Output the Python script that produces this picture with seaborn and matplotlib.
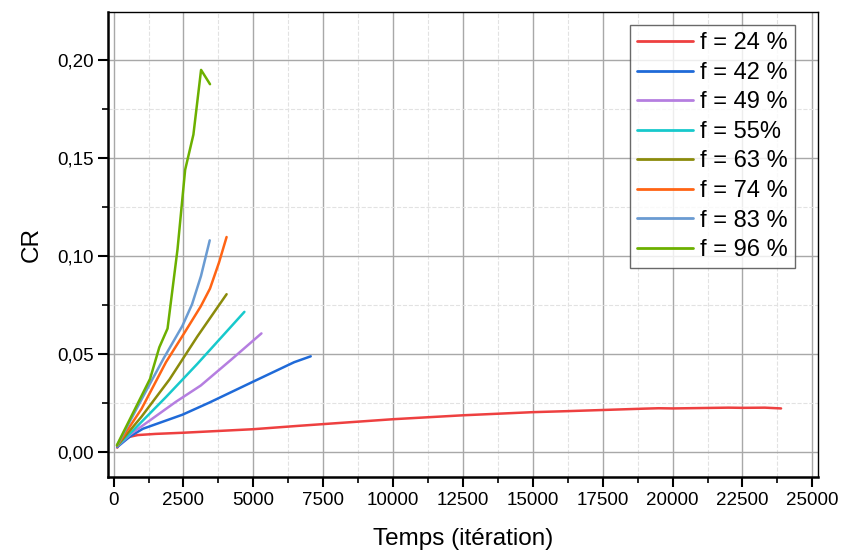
import numpy as np
import pandas as pd
import matplotlib
matplotlib.use('Agg')
import matplotlib.pyplot as plt
import seaborn as sns
from matplotlib.ticker import MultipleLocator, FuncFormatter

# --- données ---
labels = ['f = 24 %', 'f = 42 %', 'f = 49 %', 'f = 55%', 'f = 63 %', 'f = 74 %', 'f = 83 %', 'f = 96 %']
colors = ['#ee4040', '#1f6ad8', '#b57ee0', '#17c9cc', '#8b8b0b', '#ff6414', '#6a9bd2', '#6cb000']

x_24 = [130, 270, 570, 860, 1500, 2500, 5000, 6600, 7500, 10000, 12500, 15000, 16200, 17500,
        19000, 19500, 20000, 21000, 22000, 22500, 23300, 23880]
cr_24 = [0.0022, 0.0056, 0.0077, 0.0086, 0.0092, 0.0098, 0.0116, 0.0133, 0.0142, 0.0167, 0.0187,
         0.0203, 0.0208, 0.0214, 0.0221, 0.0223, 0.0222, 0.0224, 0.0226, 0.0225, 0.0226, 0.0222]

x_42 = [130, 600, 1045, 2464, 3413, 4953, 6461, 7053]
cr_42 = [0.0025, 0.0080, 0.0118, 0.0190, 0.0251, 0.0356, 0.0458, 0.0488]

x_49 = [130, 600, 1045, 2230, 3119, 4200, 5290]
cr_49 = [0.0028, 0.0090, 0.0135, 0.0256, 0.0339, 0.0470, 0.0605]

x_55 = [130, 700, 1874, 3000, 4680]
cr_55 = [0.0030, 0.0110, 0.0280, 0.0450, 0.0715]

x_63 = [130, 1000, 2000, 3000, 4043]
cr_63 = [0.0032, 0.0180, 0.0370, 0.0590, 0.0805]

x_74 = [130, 1000, 1874, 2500, 3119, 3450, 3770, 4043]
cr_74 = [0.0033, 0.0220, 0.0458, 0.0600, 0.0743, 0.0834, 0.0966, 0.1097]

x_83 = [130, 1045, 1800, 2464, 2808, 3127, 3440]
cr_83 = [0.0034, 0.0280, 0.0480, 0.0644, 0.0754, 0.0898, 0.1080]

x_96 = [117, 1305, 1636, 1931, 2287, 2560, 2856, 3130, 3450]
cr_96 = [0.0034, 0.0373, 0.0534, 0.0630, 0.1034, 0.1440, 0.1620, 0.1950, 0.1877]

xs = [x_24, x_42, x_49, x_55, x_63, x_74, x_83, x_96]
crs = [cr_24, cr_42, cr_49, cr_55, cr_63, cr_74, cr_83, cr_96]

rows = []
for lab, xv, yv in zip(labels, xs, crs):
    for a, b in zip(xv, yv):
        rows.append({'Temps': a, 'CR': b, 'serie': lab})
df = pd.DataFrame(rows)

# --- tracé ---
sns.set_theme(style='white')
plt.rcParams['font.family'] = ['Liberation Sans', 'DejaVu Sans']
plt.rcParams['text.color'] = 'black'
plt.rcParams['axes.labelcolor'] = 'black'

fig = plt.figure(figsize=(8.47, 5.51), dpi=100)
ax = fig.add_axes([0.1275, 0.1343, 0.8382, 0.8437])

sns.lineplot(data=df, x='Temps', y='CR', hue='serie', hue_order=labels,
             palette=dict(zip(labels, colors)), sort=False, estimator=None,
             linewidth=1.8, ax=ax)

ax.set_xlim(-200, 25200)
ax.set_ylim(-0.0128, 0.2245)

ax.xaxis.set_major_locator(MultipleLocator(2500))
ax.xaxis.set_minor_locator(MultipleLocator(1250))
ax.yaxis.set_major_locator(MultipleLocator(0.05))
ax.yaxis.set_minor_locator(MultipleLocator(0.025))
ax.yaxis.set_major_formatter(FuncFormatter(lambda v, p: f'{v:.2f}'.replace('.', ',')))

ax.grid(True, which='major', color='#a8a8a8', linewidth=1.0, linestyle='-')
ax.grid(True, which='minor', color='#e2e2e2', linewidth=0.8, linestyle='--')
ax.set_axisbelow(True)

for s in ['left', 'bottom']:
    ax.spines[s].set_linewidth(1.8)
    ax.spines[s].set_color('black')
for s in ['top', 'right']:
    ax.spines[s].set_linewidth(1.0)
    ax.spines[s].set_color('black')

ax.tick_params(which='major', direction='out', length=7, width=1.5, colors='black',
               labelsize=13.5, bottom=True, left=True, top=False, right=False)
ax.tick_params(which='minor', direction='out', length=4, width=1.2, colors='black',
               bottom=True, left=True, top=False, right=False)

ax.set_xlabel('Temps (itération)', fontsize=17.5, labelpad=14)
ax.set_ylabel('CR', fontsize=17.5, labelpad=10)

leg = ax.legend(loc='upper right', bbox_to_anchor=(0.968, 0.972), fontsize=17,
                frameon=True, fancybox=False, handlelength=2.4, handletextpad=0.3,
                borderpad=0.3, labelspacing=0.32, borderaxespad=0.0)
leg.get_frame().set_edgecolor('#444444')
leg.get_frame().set_linewidth(1.0)
for t in leg.get_texts():
    t.set_color('black')
for line in leg.get_lines():
    line.set_linewidth(2.0)

fig.savefig('out.png', dpi=100)
